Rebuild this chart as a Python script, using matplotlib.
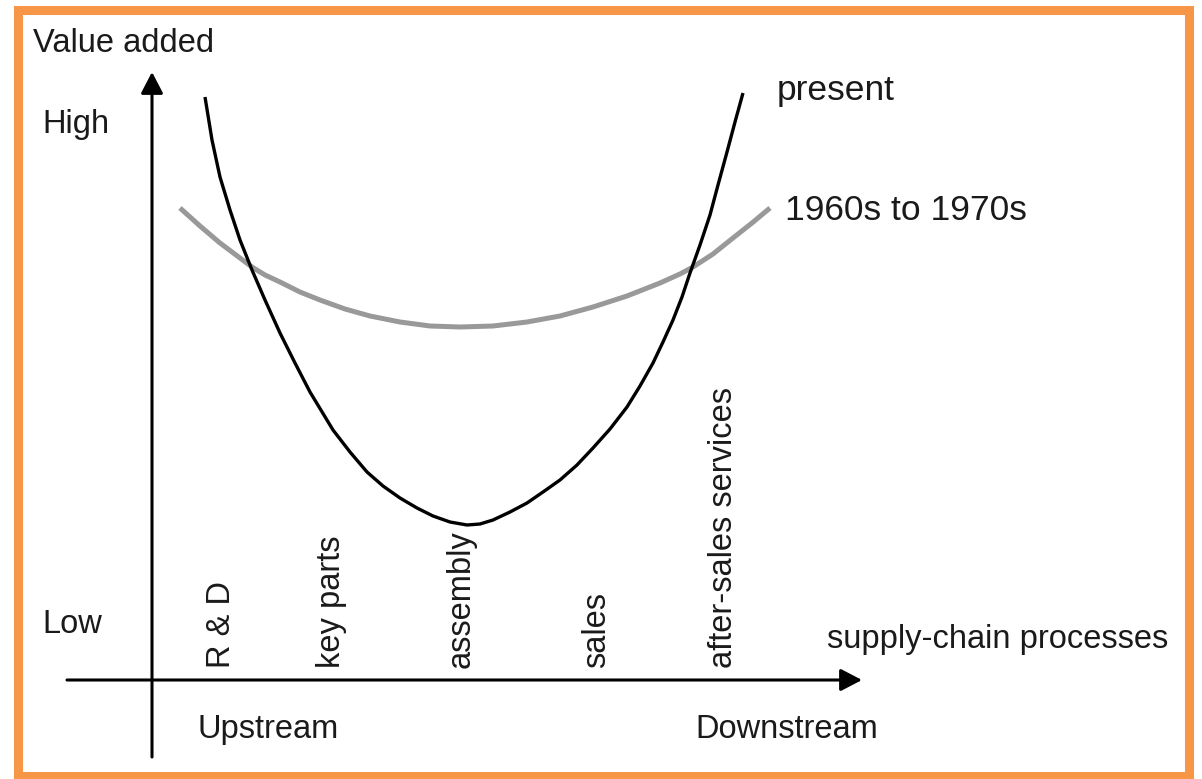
import matplotlib
matplotlib.use("Agg")
import matplotlib.pyplot as plt
from matplotlib.patches import Rectangle

plt.rcParams['font.family'] = ['Liberation Sans', 'DejaVu Sans']

# smile curve (x = position along the chain, y = value added)
present_x = [0.53, 0.60, 0.68, 0.78, 0.88, 1.00, 1.13, 1.28, 1.43, 1.58, 1.81, 1.98,
             2.15, 2.31, 2.48, 2.65, 2.81, 2.98, 3.15, 3.28, 3.41, 3.58, 3.75, 3.91,
             4.08, 4.25, 4.41, 4.58, 4.75, 4.88, 5.01, 5.11, 5.21, 5.30, 5.38, 5.48,
             5.58, 5.66, 5.75, 5.83, 5.91]
present_y = [5.83, 5.40, 5.03, 4.70, 4.40, 4.10, 3.80, 3.47, 3.17, 2.88, 2.50, 2.28,
             2.08, 1.94, 1.82, 1.72, 1.64, 1.58, 1.55, 1.56, 1.60, 1.68, 1.77, 1.88,
             2.00, 2.15, 2.32, 2.51, 2.73, 2.94, 3.17, 3.38, 3.60, 3.83, 4.07, 4.35,
             4.65, 4.95, 5.28, 5.58, 5.87]

old_x = [0.28, 0.48, 0.68, 0.88, 1.00, 1.13, 1.28, 1.48, 1.68, 1.93, 2.18, 2.48, 2.78,
         3.08, 3.41, 3.75, 4.08, 4.41, 4.75, 5.08, 5.28, 5.41, 5.61, 5.81, 6.00, 6.18]
old_y = [4.72, 4.54, 4.37, 4.22, 4.13, 4.05, 3.98, 3.88, 3.80, 3.71, 3.64, 3.58, 3.54,
         3.53, 3.54, 3.58, 3.64, 3.73, 3.84, 3.97, 4.06, 4.13, 4.26, 4.42, 4.57, 4.72]

stages = ["R & D", "key parts", "assembly", "sales", "after-sales services"]
stage_x = [0.78, 1.88, 3.18, 4.53, 5.80]

txt = '#1a1a1a'

fig = plt.figure(figsize=(12.02, 7.79), dpi=100)
ax = fig.add_axes([0, 0, 1, 1])
ax.set_xlim(-1.52, 10.50)
ax.set_ylim(-0.99, 6.80)
ax.axis('off')

# axes with arrow heads
arrow = dict(arrowstyle='-|>,head_length=0.5,head_width=0.26', lw=2.2, color='black',
             mutation_scale=26, shrinkA=0, shrinkB=0)
ax.annotate('', xy=(0, 6.08), xytext=(0, -0.77), arrowprops=arrow)
ax.annotate('', xy=(7.10, 0), xytext=(-0.85, 0), arrowprops=arrow)

# curves
ax.plot(old_x, old_y, color='#999999', lw=3.6, solid_capstyle='butt', solid_joinstyle='round')
ax.plot(present_x, present_y, color='black', lw=2.4, solid_capstyle='butt', solid_joinstyle='round')

# labels
fs = 23.5
ax.text(-1.19, 6.28, "Value added", fontsize=fs, color=txt)
ax.text(-1.10, 5.47, "High", fontsize=fs, color=txt)
ax.text(-1.10, 0.47, "Low", fontsize=fs, color=txt)
ax.text(6.75, 0.32, "supply-chain processes", fontsize=fs, color=txt)
ax.text(0.45, -0.58, "Upstream", fontsize=fs, color=txt)
ax.text(5.43, -0.58, "Downstream", fontsize=fs, color=txt)
ax.text(6.25, 5.80, "present", fontsize=25.5, color=txt)
ax.text(6.33, 4.60, "1960s to 1970s", fontsize=25.5, color=txt)

for name, sx in zip(stages, stage_x):
    ax.text(sx, 0.12, name, fontsize=fs, color=txt, rotation=90,
            rotation_mode='anchor', ha='left', va='baseline')

# orange frame
fig.patches.append(Rectangle((0.01456, 0.00385), 0.97504, 0.98395, transform=fig.transFigure,
                             fill=False, edgecolor='#f79646', lw=6.5))

fig.savefig("out.png", dpi=100, facecolor='white')
